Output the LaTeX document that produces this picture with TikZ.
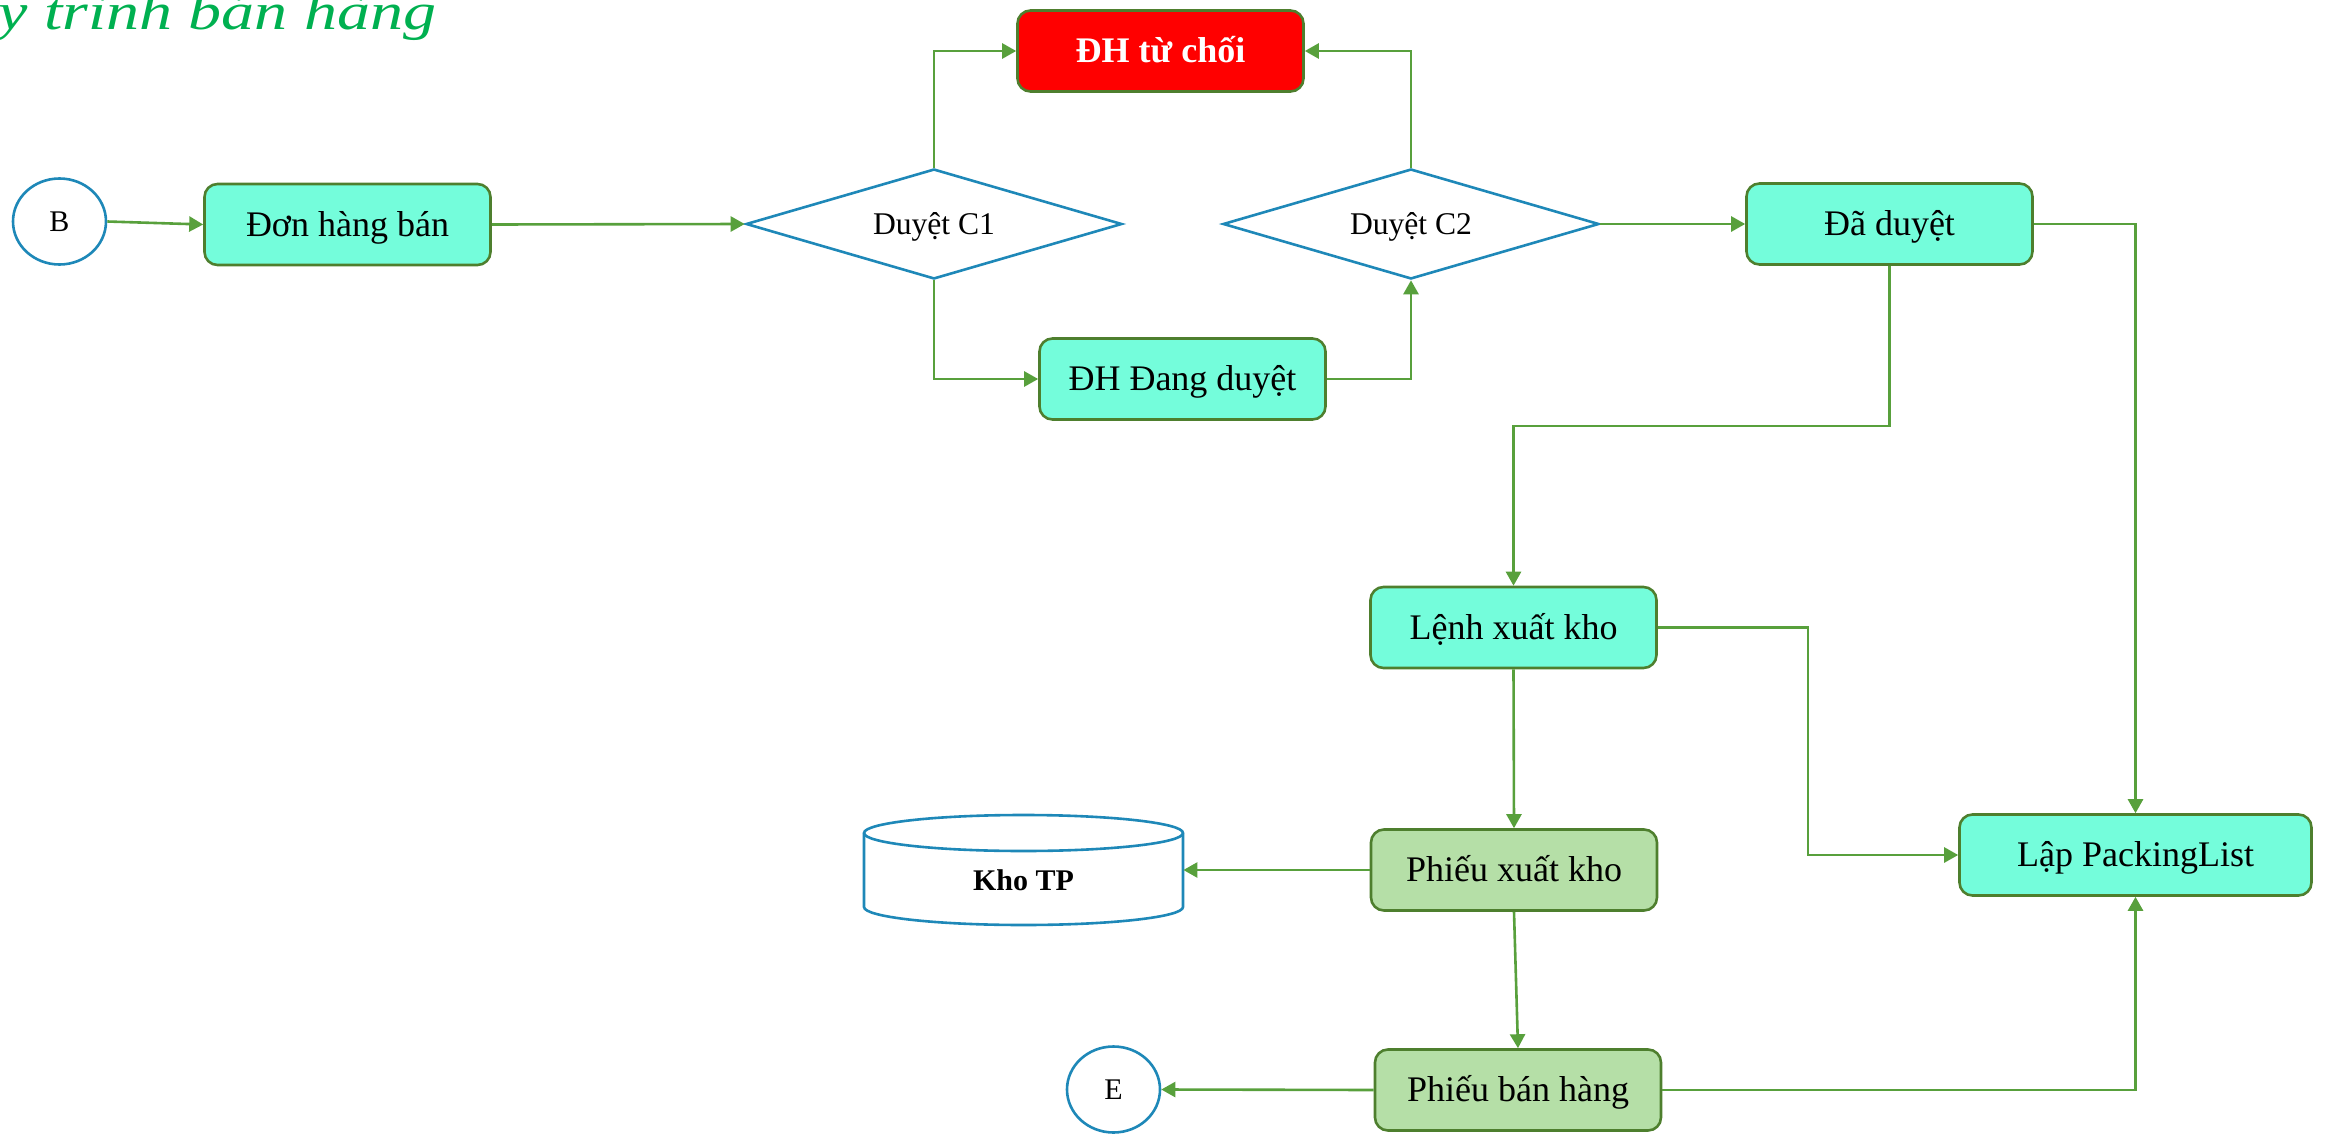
\documentclass[tikz,border=0pt]{standalone}
\usepackage{fontspec}
\usepackage{graphicx}
\setmainfont{Liberation Serif}
\usetikzlibrary{arrows.meta,shapes.geometric}
\definecolor{mint}{HTML}{74FDDB}
\definecolor{lgreen}{HTML}{B5DFA7}
\definecolor{bordergreen}{HTML}{4E7F2E}
\definecolor{linegreen}{HTML}{58A03C}
\definecolor{blueline}{HTML}{1E88B8}
\definecolor{titlegreen}{HTML}{00B050}
\begin{document}
\begin{tikzpicture}[x=0.5pt,y=-0.5pt,
  box/.style={draw=bordergreen, line width=1.3pt, rounded corners=6.5pt, fill=mint,
    minimum width=143pt, minimum height=40.5pt, inner sep=0pt,
    font=\fontsize{18}{20}\selectfont, text height=11.9pt, text depth=0pt},
  pbox/.style={box, fill=lgreen},
  decision/.style={draw=blueline, line width=1.3pt, diamond, aspect=3.4, inner sep=0pt,
    minimum width=188pt, minimum height=55pt,
    font=\fontsize{15.8}{18}\selectfont, text height=10.5pt, text depth=0pt},
  terminal/.style={draw=blueline, line width=1.3pt, ellipse, inner sep=0pt,
    minimum width=46.5pt, minimum height=43pt, fill=white,
    font=\fontsize{15}{17}\selectfont, text height=9.9pt, text depth=0pt},
  flow/.style={draw=linegreen, line width=1.3pt, -{Triangle[length=7pt,width=7.5pt]}}
]
\useasboundingbox (0,0) rectangle (2326,1135);

% title
\node[anchor=base east, inner sep=0pt, text=titlegreen,
  font=\fontsize{26}{30}\selectfont\itshape] (title) at (437,29)
  {\scalebox{1.27}[1]{Quy trình bán hàng}};

% nodes
\node[terminal] (b) at (59.5,221.5) {B};
\node[box] (don) at (347.5,224.5) {Đơn hàng bán};
\node[decision] (c1) at (934,224) {Duyệt C1};
\node[decision] (c2) at (1411,224) {Duyệt C2};
\node[box, fill=red, text=white, font=\fontsize{18}{20}\selectfont\bfseries] (tuchoi) at (1160.5,51) {ĐH từ chối};
\node[box] (dang) at (1182.5,379) {ĐH Đang duyệt};
\node[box] (daduyet) at (1889.5,224) {Đã duyệt};
\node[box] (lenh) at (1513.5,627.5) {Lệnh xuất kho};
\node[box, minimum width=176pt] (packing) at (2135.5,855) {Lập PackingList};
\node[pbox] (pxk) at (1514,870) {Phiếu xuất kho};
\node[pbox] (pbh) at (1518,1090) {Phiếu bán hàng};
\node[terminal] (e) at (1113.5,1089.5) {E};

% cylinder Kho TP
\draw[draw=blueline, line width=1.3pt, fill=white]
  (864,833) -- (864,907) arc[start angle=180, end angle=0, x radius=159.5, y radius=18]
  -- (1183,833) arc[start angle=0, end angle=-180, x radius=159.5, y radius=18] -- cycle;
\draw[draw=blueline, line width=1.3pt]
  (864,833) arc[start angle=180, end angle=0, x radius=159.5, y radius=18];
\node[minimum width=159.5pt, minimum height=37pt, inner sep=0pt] (kho) at (1023.5,870) {};
\node[font=\fontsize{15}{17}\selectfont\bfseries, inner sep=0pt, text height=9.9pt, text depth=0pt] (khotxt) at (1023.5,881) {Kho TP};

% connectors
\draw[flow] (b.east) -- (don.west);
\draw[flow] (don.east) -- (c1.west);
\draw[flow] (c1.north) |- (tuchoi.west);
\draw[flow] (c2.north) |- (tuchoi.east);
\draw[flow] (c1.south) |- (dang.west);
\draw[flow] (dang.east) -| (c2.south);
\draw[flow] (c2.east) -- (daduyet.west);
\draw[flow] (daduyet.east) -| (packing.north);
\draw[flow] (daduyet.south) -- ++(0,160) -| (lenh.north);
\draw[flow] (lenh.east) -- ++(150,0) |- (packing.west);
\draw[flow] (lenh.south) -- (pxk.north);
\draw[flow] (pxk.west) -- (kho.east);
\draw[flow] (pxk.south) -- (pbh.north);
\draw[flow] (pbh.west) -- (e.east);
\draw[flow] (pbh.east) -| (packing.south);
\end{tikzpicture}
\end{document}
